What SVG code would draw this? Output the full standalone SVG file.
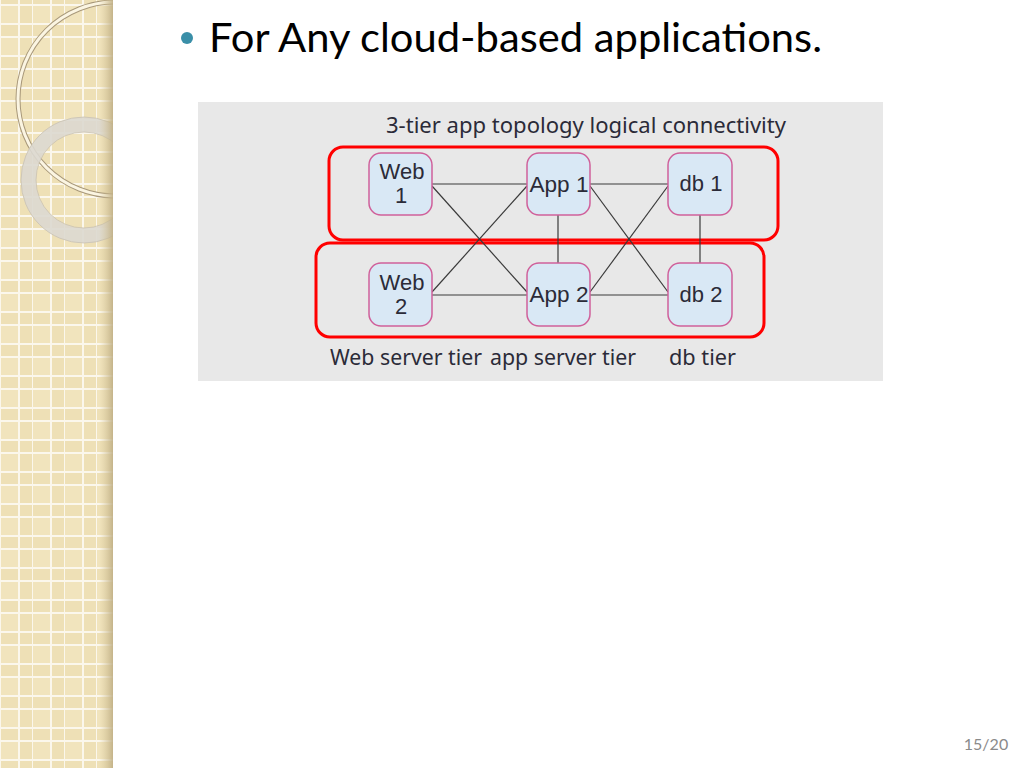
<svg xmlns="http://www.w3.org/2000/svg" width="1024" height="768" viewBox="0 0 1024 768">
<defs>
<pattern id="grid" patternUnits="userSpaceOnUse" x="0" y="0" width="32" height="32">
<rect width="32" height="32" fill="#eee0b6"/>
<rect x="1" y="6" width="17" height="17" fill="#f1e4bd"/>
<line x1="0" y1="0" x2="0" y2="32" stroke="#fbf7ec" stroke-width="2"/>
<line x1="19" y1="0" x2="19" y2="32" stroke="#fbf7ec" stroke-width="2"/>
<line x1="0" y1="5" x2="32" y2="5" stroke="#fbf7ec" stroke-width="2"/>
<line x1="0" y1="24" x2="32" y2="24" stroke="#fbf7ec" stroke-width="2"/>
</pattern>
<linearGradient id="edge" x1="0" y1="0" x2="1" y2="0">
<stop offset="0" stop-color="#d8c89c" stop-opacity="0"/>
<stop offset="1" stop-color="#bfae84" stop-opacity="0.9"/>
</linearGradient>
<clipPath id="side"><rect x="0" y="0" width="113" height="768"/></clipPath>
<style>
.node{fill:#d9e8f5;stroke:#d0609a;stroke-width:1.5}
.tier{fill:none;stroke:#ff0000;stroke-width:3}
.lbl{font-family:"Noto Sans","Open Sans",sans-serif;font-size:21px;fill:#2b2b38}
.nt{font-family:"Liberation Sans",Arial,sans-serif;font-size:22px;fill:#2b2b38;text-anchor:middle}
.con line{stroke:#3a3a3a;stroke-width:1.2}
</style>
</defs>
<rect width="1024" height="768" fill="#ffffff"/>
<g id="sidebar" clip-path="url(#side)">
<rect x="0" y="0" width="113" height="768" fill="url(#grid)"/>
<circle cx="115" cy="99" r="97" fill="none" stroke="#a8987a" stroke-width="5"/>
<circle cx="115" cy="99" r="97" fill="none" stroke="#fbf5e2" stroke-width="3"/>
<circle cx="84" cy="180" r="55.5" fill="none" stroke="#dcd8d0" stroke-opacity="0.9" stroke-width="15"/>
<circle cx="84" cy="180" r="63" fill="none" stroke="#c9c2b2" stroke-width="0.8"/>
<circle cx="84" cy="180" r="48" fill="none" stroke="#c9c2b2" stroke-width="0.8"/>
<rect x="99" y="0" width="14" height="768" fill="url(#edge)"/>
</g>
<g id="title">
<circle cx="187" cy="38" r="6" fill="#3a8fa8"/>
<text x="209" y="52" font-family="Lato,'Liberation Sans',sans-serif" font-size="40" fill="#000" textLength="613" lengthAdjust="spacingAndGlyphs">For Any cloud-based applications.</text>
</g>
<rect id="panel" x="198" y="102" width="685" height="279" fill="#e8e8e8"/>
<text class="lbl" x="386" y="133" textLength="400" lengthAdjust="spacingAndGlyphs">3-tier app topology logical connectivity</text>
<g id="tiers">
<rect class="tier" x="329" y="147" width="449" height="93" rx="14"/>
<rect class="tier" x="316" y="243" width="448" height="94" rx="14"/>
</g>
<g id="connectors" class="con">
<line x1="432" y1="184" x2="527" y2="184"/>
<line x1="590" y1="184" x2="668" y2="184"/>
<line x1="432" y1="295" x2="527" y2="295"/>
<line x1="590" y1="295" x2="668" y2="295"/>
<line x1="432" y1="186" x2="527" y2="292"/>
<line x1="527" y1="186" x2="432" y2="292"/>
<line x1="590" y1="186" x2="668" y2="292"/>
<line x1="668" y1="186" x2="590" y2="292"/>
<line x1="558" y1="215" x2="558" y2="263"/>
<line x1="700" y1="215" x2="700" y2="263"/>
</g>
<g id="web1"><rect class="node" x="369" y="153" width="63" height="62" rx="12"/><text class="nt" x="402" y="179">Web</text><text class="nt" x="401" y="203">1</text></g>
<g id="app1"><rect class="node" x="527" y="153" width="63" height="62" rx="12"/><text class="nt" x="559" y="192" textLength="59" lengthAdjust="spacingAndGlyphs">App 1</text></g>
<g id="db1"><rect class="node" x="668" y="153" width="64" height="62" rx="12"/><text class="nt" x="701" y="191">db 1</text></g>
<g id="web2"><rect class="node" x="369" y="263" width="63" height="63" rx="12"/><text class="nt" x="402" y="290">Web</text><text class="nt" x="401" y="314">2</text></g>
<g id="app2"><rect class="node" x="527" y="263" width="63" height="63" rx="12"/><text class="nt" x="559" y="302" textLength="59" lengthAdjust="spacingAndGlyphs">App 2</text></g>
<g id="db2"><rect class="node" x="668" y="263" width="64" height="63" rx="12"/><text class="nt" x="701" y="302">db 2</text></g>
<g id="labels">
<text class="lbl" x="330" y="365" textLength="152" lengthAdjust="spacingAndGlyphs">Web server tier</text>
<text class="lbl" x="490" y="365" textLength="146" lengthAdjust="spacingAndGlyphs">app server tier</text>
<text class="lbl" x="669" y="365" textLength="67" lengthAdjust="spacingAndGlyphs">db tier</text>
</g>
<text x="986" y="750" font-family="Lato,'Liberation Sans',sans-serif" font-size="16" fill="#8a8a8a" text-anchor="middle">15/20</text>
</svg>
